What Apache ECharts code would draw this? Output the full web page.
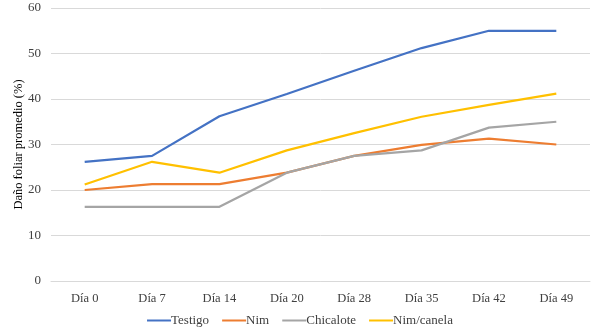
<!DOCTYPE html>
<html>
<head>
<meta charset="utf-8">
<script src="https://cdn.jsdelivr.net/npm/echarts@6/dist/echarts.min.js"></script>
<style>
  html, body { margin: 0; padding: 0; background: #fff; }
  #main { width: 600px; height: 333px; }
</style>
</head>
<body>
<div id="main"></div>
<script>
// categorías del eje x
const dias = ['Día 0', 'Día 7', 'Día 14', 'Día 20', 'Día 28', 'Día 35', 'Día 42', 'Día 49'];
// daño foliar promedio (%) por tratamiento
const testigo = [26.2, 27.5, 36.2, 41.1, 46.2, 51.2, 55, 55];
const nim = [20, 21.3, 21.3, 23.8, 27.5, 29.9, 31.3, 30];
const chicalote = [16.3, 16.3, 16.3, 23.8, 27.5, 28.7, 33.7, 35];
const nimCanela = [21.2, 26.2, 23.8, 28.7, 32.5, 36.1, 38.7, 41.2];

const font = 'Liberation Serif';
const myChart = echarts.init(document.getElementById('main'));

function serie(name, data, color) {
  return {
    name: name,
    type: 'line',
    data: data,
    symbol: 'none',
    lineStyle: { width: 2.25, color: color },
    itemStyle: { color: color }
  };
}

const option = {
  animation: false,
  textStyle: { fontFamily: font },
  grid: { left: 51, right: 10, top: 8, bottom: 52, outerBoundsMode: 'none' },
  legend: {
    top: 309,
    left: 'center',
    itemWidth: 24,
    itemHeight: 2,
    itemGap: 13,
    icon: 'rect',
    textStyle: { fontFamily: font, fontSize: 13, color: '#404040', padding: [0, 0, 0, -5] },
    data: ['Testigo', 'Nim', 'Chicalote', 'Nim/canela']
  },
  xAxis: {
    type: 'category',
    data: dias,
    boundaryGap: true,
    axisLine: { lineStyle: { color: '#d9d9d9' } },
    axisTick: { show: false },
    axisLabel: { fontFamily: font, fontSize: 12.5, color: '#404040', margin: 11 }
  },
  yAxis: {
    type: 'value',
    min: 0,
    max: 60,
    interval: 10,
    name: 'Daño foliar promedio (%)',
    nameLocation: 'middle',
    nameGap: 26,
    nameMoveOverlap: false,
    nameTextStyle: { fontFamily: font, fontSize: 12.5, color: '#000' },
    axisLine: { show: false },
    axisTick: { show: false },
    axisLabel: { fontFamily: font, fontSize: 13, color: '#404040', margin: 10 },
    splitLine: { lineStyle: { color: '#d9d9d9', width: 1 } }
  },
  series: [
    serie('Testigo', testigo, '#4472C4'),
    serie('Nim', nim, '#ED7D31'),
    serie('Chicalote', chicalote, '#A5A5A5'),
    serie('Nim/canela', nimCanela, '#FFC000')
  ]
};
myChart.setOption(option);
window.onresize = myChart.resize;
</script>
</body>
</html>
